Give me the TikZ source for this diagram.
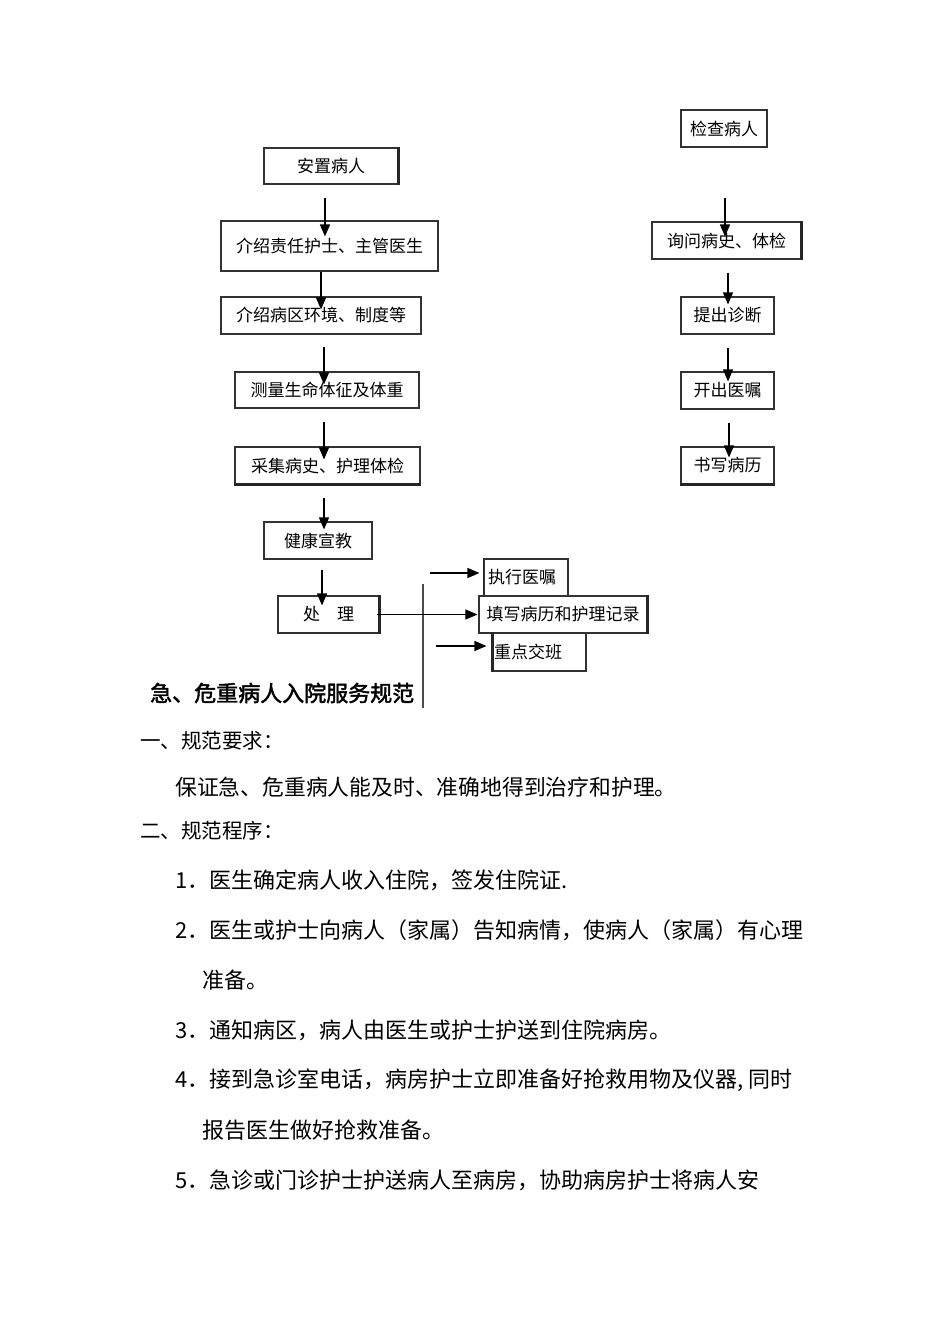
\documentclass[tikz,border=0pt]{standalone}
\usepackage{fontspec}
\setmainfont{Noto Sans CJK SC}
\newfontfamily\titlefont{Noto Sans CJK SC}[FakeBold=2]
\usetikzlibrary{arrows.meta,calc}
\begin{document}
\begin{tikzpicture}[x=1pt,y=-1pt,
  box/.style={draw=black!80, line width=1.1pt, inner sep=0pt, font=\fontsize{17}{19}\selectfont},
  edge/.style={draw=black!85, line width=2.4pt},
  arr/.style={draw=black, line width=1.4pt, -{Triangle[length=12pt,width=10pt]}},
  thinarr/.style={draw=black, line width=0.8pt, -{Triangle[length=12pt,width=10pt]}},
  txt/.style={anchor=west, inner sep=0pt, font=\fontsize{22}{24}\selectfont}]
\fill[white] (0,0) rectangle (950,1344);
\useasboundingbox (0,0) rectangle (950,1344);
% left column
\node[box, minimum width=134pt, minimum height=36pt] (n1) at (331,166) {安置病人};
\node[box, minimum width=217pt, minimum height=50pt] (n2) at (329.5,246) {介绍责任护士、主管医生};
\node[box, minimum width=200pt, minimum height=37pt] (n3) at (321,315.5) {介绍病区环境、制度等};
\node[box, minimum width=184pt, minimum height=36pt] (n4) at (327,390) {测量生命体征及体重};
\node[box, minimum width=185pt, minimum height=37pt] (n5) at (327.5,465.5) {采集病史、护理体检};
\node[box, minimum width=108pt, minimum height=37pt] (n6) at (318,540.5) {健康宣教};
\node[box, minimum width=101pt, minimum height=37pt] (n7) at (328.5,614.5) {处\quad 理};
% right column
\node[box, minimum width=86pt, minimum height=37pt] (r1) at (724,128.5) {检查病人};
\node[box, minimum width=149pt, minimum height=37pt] (r2) at (726.5,240.5) {询问病史、体检};
\node[box, minimum width=93pt, minimum height=37pt] (r3) at (727.5,315.5) {提出诊断};
\node[box, minimum width=93pt, minimum height=37pt] (r4) at (727.5,390.5) {开出医嘱};
\node[box, minimum width=93pt, minimum height=37pt] (r5) at (727.5,465.5) {书写病历};
% treatment boxes
\node[box, minimum width=84pt, minimum height=37pt, text width=76pt, align=left, inner xsep=4pt] (e1) at (526,577.5) {执行医嘱};
\node[box, minimum width=168pt, minimum height=37pt] (e2) at (563,614.5) {填写病历和护理记录};
\node[box, minimum width=93pt, minimum height=38pt, text width=91pt, align=left, inner xsep=1pt] (e3) at (539.5,652) {重点交班};
% heavier edges
\draw[edge] (n1.north east) -- (n1.south east);
\draw[edge] (n5.south west) -- (n5.south east);
\draw[edge] (n7.north east) -- (n7.south east);
\draw[edge] (r2.north east) -- (r2.south east);
\draw[edge] (r5.south west) -- (r5.south east);
\draw[edge] (e2.north east) -- (e2.south east);
\draw[edge] (e3.north west) -- (e3.south west);
\draw[draw=black!85, line width=1.8pt] (e1.north west) -- (e1.south west);
% left arrows
\draw[arr] ($(n1.south)+(-6,13)$) -- ($(n2.north)+(-4.5,16)$);
\draw[arr] ($(n2.south)+(-8.5,0)$) -- ($(n3.north)+(0,13)$);
\draw[arr] ($(n3.south)+(3,12)$) -- ($(n4.north)+(-3,13)$);
\draw[arr] ($(n4.south)+(-3,13)$) -- ($(n5.north)+(-3.5,13)$);
\draw[arr] ($(n5.south)+(-3.5,13)$) -- ($(n6.north)+(6,8)$);
\draw[arr] ($(n6.south)+(4,10)$) -- ($(n7.north)+(-6.5,10)$);
% right arrows
\draw[arr] ($(r1.south)+(1,50)$) -- ($(r2.north)+(-1.5,15)$);
\draw[arr] ($(r2.south)+(1.5,13)$) -- ($(r3.north)+(0.5,8)$);
\draw[arr] ($(r3.south)+(0.5,13)$) -- ($(r4.north)+(0.5,10)$);
\draw[arr] ($(r4.south)+(1.5,13)$) -- ($(r5.north)+(1.5,11)$);
% bracket line and horizontal arrows
\coordinate (vt) at (423,584);
\coordinate (vb) at (423,708);
\draw[draw=black!70, line width=1.2pt] (vt) -- (vb);
\coordinate (h1) at (430,573);
\coordinate (h3) at (436,646);
\draw[arr] (h1) -- ($(e1.west)+(-4,-4.5)$);
\draw[thinarr] ($(n7.east)+(-3,0)$) -- ($(e2.west)+(-1,0)$);
\draw[arr] (h3) -- ($(e3.west)+(-6,-6)$);
% text
\node[txt, font=\fontsize{22}{24}\selectfont\titlefont] (title) at (150,693) {急、危重病人入院服务规范};
\node[txt, font=\fontsize{20.5}{22}\selectfont] (s1) at (140,741) {一、规范要求：};
\node[txt, font=\fontsize{21.8}{24}\selectfont] (s1a) at (175,787) {保证急、危重病人能及时、准确地得到治疗和护理。};
\node[txt, font=\fontsize{20.5}{22}\selectfont] (s2) at (140,831) {二、规范程序：};
\node[txt] (p1) at (175,880) {1．医生确定病人收入住院，签发住院证.};
\node[txt] (p2) at (175,930) {2．医生或护士向病人（家属）告知病情，使病人（家属）有心理};
\node[txt] (p2b) at (202,980) {准备。};
\node[txt] (p3) at (175,1030) {3．通知病区，病人由医生或护士护送到住院病房。};
\node[txt] (p4) at (175,1080) {4．接到急诊室电话，病房护士立即准备好抢救用物及仪器, 同时};
\node[txt] (p4b) at (202,1130) {报告医生做好抢救准备。};
\node[txt] (p5) at (175,1180) {5．急诊或门诊护士护送病人至病房，协助病房护士将病人安};
\end{tikzpicture}
\end{document}
